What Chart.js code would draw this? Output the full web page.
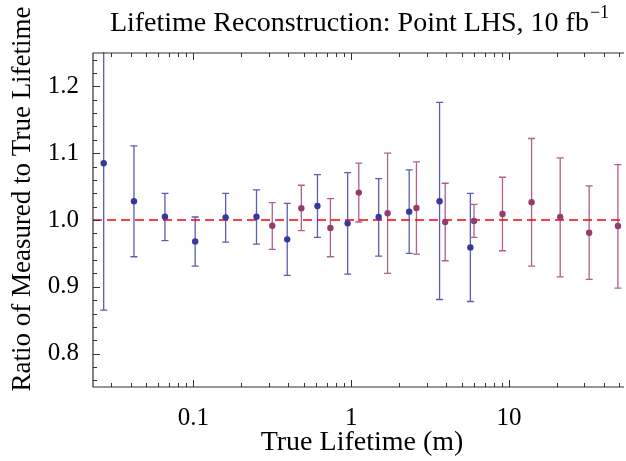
<!DOCTYPE html>
<html>
<head>
<meta charset="utf-8">
<script src="https://cdn.jsdelivr.net/npm/chart.js@4.4.1/dist/chart.umd.min.js"></script>
<style>
  html, body { margin: 0; padding: 0; background: #fff; }
  #wrap { width: 626px; height: 461px; position: relative; }
</style>
</head>
<body>
<div id="wrap"><canvas id="lifetimeChart" width="626" height="461"></canvas></div>
<script>
// blue series (first sample)
const blueX  = [0.027, 0.042, 0.066, 0.1026, 0.160, 0.251, 0.393, 0.611, 0.949, 1.493, 2.33, 3.63, 5.69];
const blueY  = [1.085, 1.028, 1.005, 0.968, 1.004, 1.005, 0.971, 1.021, 0.995, 1.0045, 1.0125, 1.028, 0.959];
const blueHi = [1.305, 1.111, 1.040, 1.0045, 1.040, 1.045, 1.025, 1.068, 1.071, 1.062, 1.075, 1.176, 1.040];
const blueLo = [0.865, 0.945, 0.969, 0.931, 0.967, 0.964, 0.917, 0.974, 0.919, 0.946, 0.950, 0.881, 0.878];

// purple series (second sample)
const purpleX  = [0.316, 0.483, 0.738, 1.117, 1.70, 2.59, 3.94, 6.0, 9.09, 13.9, 21.1, 32.2, 49.0];
const purpleY  = [0.9915, 1.0175, 0.988, 1.041, 1.010, 1.018, 0.997, 0.9985, 1.009, 1.0265, 1.0045, 0.981, 0.991];
const purpleHi = [1.026, 1.052, 1.032, 1.085, 1.100, 1.087, 1.055, 1.0235, 1.064, 1.122, 1.093, 1.051, 1.083];
const purpleLo = [0.956, 0.984, 0.945, 0.997, 0.920, 0.949, 0.939, 0.974, 0.954, 0.931, 0.915, 0.911, 0.898];

// axis ticks
const xMajor = [0.1, 1, 10];
const xMinor = [0.03, 0.04, 0.05, 0.06, 0.07, 0.08, 0.09, 0.2, 0.3, 0.4, 0.5, 0.6, 0.7, 0.8, 0.9,
                2, 3, 4, 5, 6, 7, 8, 9, 20, 30, 40, 50];
const yMajor = [0.8, 0.9, 1.0, 1.1, 1.2];
const yMinor = [0.76, 0.78, 0.82, 0.84, 0.86, 0.88, 0.92, 0.94, 0.96, 0.98,
                1.02, 1.04, 1.06, 1.08, 1.12, 1.14, 1.16, 1.18, 1.22, 1.24];
const refLine = 1.0;

const serif = "'Liberation Serif', 'DejaVu Serif', serif";
const blueCol = "#38389c";
const purpleCol = "#963c6c";
const blueBar = "#5c5cb2";
const purpleBar = "#b0608c";

function toPoints(xs, ys) {
  return xs.map((x, i) => ({ x: x, y: ys[i] }));
}

const errorBars = {
  id: "errorBars",
  beforeDatasetsDraw(chart) {
    const ctx = chart.ctx;
    const xs = chart.scales.x, ys = chart.scales.y;
    const area = chart.chartArea;
    ctx.save();
    ctx.beginPath();
    ctx.rect(area.left, area.top - 1, area.right - area.left + 2, area.bottom - area.top + 1);
    ctx.clip();

    const sets = [
      [blueX, blueLo, blueHi, blueBar],
      [purpleX, purpleLo, purpleHi, purpleBar]
    ];
    sets.forEach(([xv, lo, hi, col]) => {
      ctx.strokeStyle = col;
      ctx.lineWidth = 1.3;
      xv.forEach((x, i) => {
        const px = xs.getPixelForValue(x);
        const p1 = ys.getPixelForValue(lo[i]);
        const p2 = ys.getPixelForValue(hi[i]);
        ctx.beginPath();
        ctx.moveTo(px, p1); ctx.lineTo(px, p2);
        ctx.moveTo(px - 3.5, p1); ctx.lineTo(px + 3.5, p1);
        ctx.moveTo(px - 3.5, p2); ctx.lineTo(px + 3.5, p2);
        ctx.stroke();
      });
    });

    // dashed reference line
    const ry = ys.getPixelForValue(refLine);
    ctx.strokeStyle = "#ff0000";
    ctx.lineWidth = 1.4;
    ctx.setLineDash([9, 5]);
    ctx.beginPath();
    ctx.moveTo(area.left, ry); ctx.lineTo(area.right, ry);
    ctx.stroke();
    ctx.restore();
  }
};

const frameAndText = {
  id: "frameAndText",
  afterDraw(chart) {
    const ctx = chart.ctx;
    const xs = chart.scales.x, ys = chart.scales.y;
    const a = chart.chartArea;
    ctx.save();
    ctx.strokeStyle = "#333";
    ctx.lineWidth = 1.2;
    ctx.beginPath();
    ctx.moveTo(a.right + 2, a.top); ctx.lineTo(a.left, a.top);
    ctx.lineTo(a.left, a.bottom); ctx.lineTo(a.right + 2, a.bottom);
    ctx.stroke();

    // inward ticks on all frame sides
    ctx.lineWidth = 1;
    ctx.beginPath();
    xMajor.concat(xMinor).forEach(v => {
      const len = xMajor.includes(v) ? 7 : 4;
      const px = Math.round(xs.getPixelForValue(v)) + 0.5;
      ctx.moveTo(px, a.bottom); ctx.lineTo(px, a.bottom - len);
      ctx.moveTo(px, a.top); ctx.lineTo(px, a.top + len);
    });
    yMajor.concat(yMinor).forEach(v => {
      const len = yMajor.includes(v) ? 7 : 4;
      const py = Math.round(ys.getPixelForValue(v)) + 0.5;
      ctx.moveTo(a.left, py); ctx.lineTo(a.left + len, py);
    });
    ctx.stroke();

    // title with superscript
    ctx.fillStyle = "#000";
    ctx.textBaseline = "alphabetic";
    ctx.textAlign = "left";
    ctx.font = "28px " + serif;
    const main = "Lifetime Reconstruction: Point LHS, 10 fb";
    const w = ctx.measureText(main).width;
    ctx.font = "18px " + serif;
    const sup = "\u22121";
    const ws = ctx.measureText(sup).width;
    const x0 = 359 - (w + ws) / 2;
    ctx.font = "28px " + serif;
    ctx.fillText(main, x0, 31);
    ctx.font = "18px " + serif;
    ctx.fillText(sup, x0 + w + 1, 18);

    // axis titles
    ctx.font = "28px " + serif;
    ctx.textAlign = "center";
    ctx.fillText("True Lifetime (m)", 362, 450);
    ctx.font = "27px " + serif;
    ctx.translate(30, 199);
    ctx.rotate(-Math.PI / 2);
    ctx.fillText("Ratio of Measured to True Lifetime", 0, 0);
    ctx.restore();
  }
};

const ctx = document.getElementById("lifetimeChart").getContext("2d");

new Chart(ctx, {
  type: "scatter",
  data: {
    datasets: [
      {
        label: "blue",
        data: toPoints(blueX, blueY),
        backgroundColor: blueCol,
        borderColor: blueCol,
        pointRadius: 3.2,
        pointBorderWidth: 0
      },
      {
        label: "purple",
        data: toPoints(purpleX, purpleY),
        backgroundColor: purpleCol,
        borderColor: purpleCol,
        pointRadius: 3.2,
        pointBorderWidth: 0
      }
    ]
  },
  options: {
    responsive: false,
    animation: false,
    layout: { padding: { top: 53, right: 0, left: 0, bottom: 0 } },
    plugins: {
      legend: { display: false },
      tooltip: { enabled: false }
    },
    scales: {
      x: {
        type: "logarithmic",
        min: 0.0231,
        max: 52,
        grid: { display: false },
        border: { display: false },
        afterBuildTicks: (scale) => { scale.ticks = xMajor.map(v => ({ value: v })); },
        afterFit: (scale) => { scale.height = 74; },
        ticks: {
          color: "#000",
          font: { family: serif, size: 25 },
          padding: 8,
          maxRotation: 0,
          callback: (v) => String(v)
        }
      },
      y: {
        min: 0.75,
        max: 1.25,
        grid: { display: false },
        border: { display: false },
        afterBuildTicks: (scale) => { scale.ticks = yMajor.map(v => ({ value: v })); },
        afterFit: (scale) => { scale.width = 93; },
        ticks: {
          color: "#000",
          font: { family: serif, size: 25 },
          padding: 6,
          callback: (v) => Number(v).toFixed(1)
        }
      }
    }
  },
  plugins: [errorBars, frameAndText]
});
</script>
</body>
</html>
